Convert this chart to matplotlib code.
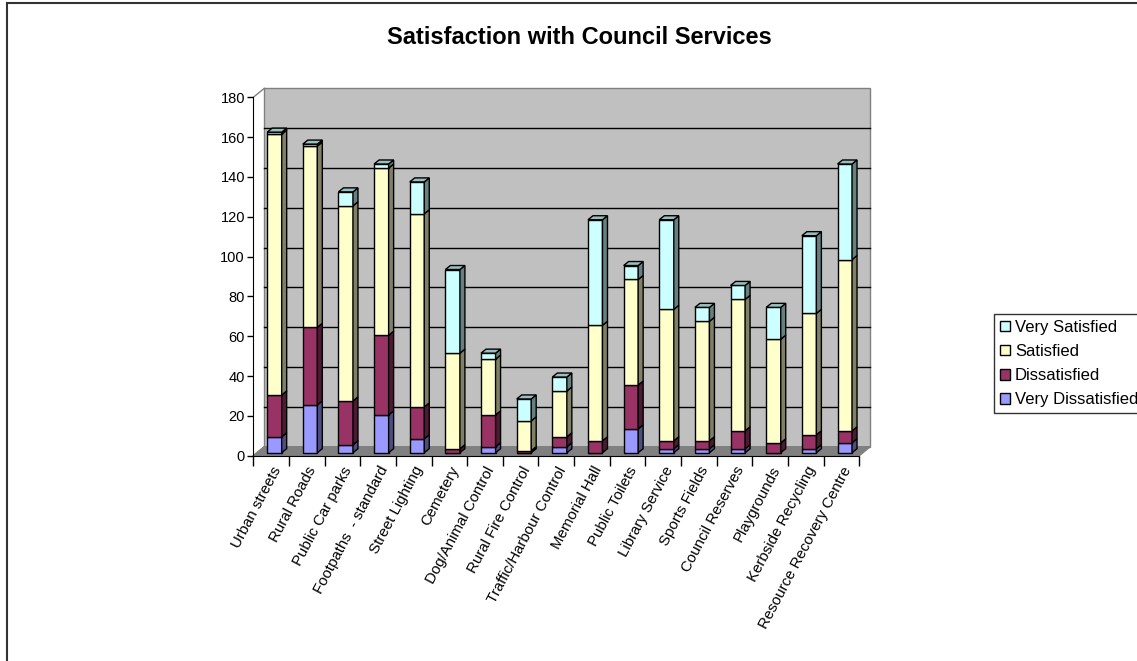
import matplotlib
matplotlib.use("Agg")
import matplotlib.pyplot as plt
from matplotlib.patches import Polygon, Rectangle, Patch
from matplotlib.lines import Line2D
import numpy as np

categories = ["Urban streets", "Rural Roads", "Public Car parks", "Footpaths  - standard",
              "Street Lighting", "Cemetery", "Dog/Animal Control", "Rural Fire Control",
              "Traffic/Harbour Control", "Memorial Hall", "Public Toilets", "Library Service",
              "Sports Fields", "Council Reserves", "Playgrounds", "Kerbside Recycling",
              "Resource Recovery Centre"]
very_dissatisfied = [8, 24, 4, 19, 7, 0, 3, 0, 3, 0, 12, 2, 2, 2, 0, 2, 5]
dissatisfied = [21, 39, 22, 40, 16, 2, 16, 1, 5, 6, 22, 4, 4, 9, 5, 7, 6]
satisfied = [131, 91, 98, 84, 97, 48, 28, 15, 23, 58, 53, 66, 60, 66, 52, 61, 86]
very_satisfied = [1, 1, 7, 2, 16, 42, 3, 11, 7, 53, 7, 45, 7, 7, 16, 39, 48]
series_names = ["Very Dissatisfied", "Dissatisfied", "Satisfied", "Very Satisfied"]
series_colors = ["#9999FF", "#993366", "#FFFFCC", "#CCFFFF"]
y_ticks = [0, 20, 40, 60, 80, 100, 120, 140, 160, 180]

plt.rcParams['font.family'] = ['Liberation Sans', 'DejaVu Sans']

W, H = 1137, 661
fig = plt.figure(figsize=(W / 100, H / 100), dpi=100)
fig.patch.set_facecolor("white")

ax_l, ax_r, ax_b, ax_t = 253.3, 859.3, 455.7, 97.3
ax = fig.add_axes([ax_l / W, (H - ax_b) / H, (ax_r - ax_l) / W, (ax_b - ax_t) / H])
n = len(categories)
ax.set_xlim(0, n)
ax.set_ylim(0, 180)
ax.patch.set_visible(False)

# pixel -> data conversion via axes scale
pxx = n / (ax_r - ax_l)
pxy = 180 / (ax_b - ax_t)

def shade(c, f):
    c = np.array(matplotlib.colors.to_rgb(c))
    return tuple(np.clip(c * f, 0, 1))

# walls
wx, wy = 11 * pxx, 9 * pxy
wall = Rectangle((wx, wy), n, 180, facecolor="#C0C0C0", edgecolor="#808080", lw=1.0,
                 clip_on=False, zorder=0)
ax.add_patch(wall)
floor = Polygon([(0, 0), (n, 0), (n + wx, wy), (wx, wy)], closed=True,
                facecolor="#808080", edgecolor="#808080", lw=1.0, clip_on=False, zorder=0.5)
ax.add_patch(floor)
ax.plot([0, wx], [180, 180 + wy], color="#808080", lw=1.0, clip_on=False, zorder=0.6)
ax.plot([0, wx], [0, wy], color="#808080", lw=1.0, clip_on=False, zorder=0.6)
for v in y_ticks[1:-1]:
    ax.plot([wx, n + wx], [v + wy, v + wy], color="black", lw=1.0, clip_on=False, zorder=0.7)

# bars
ox, oy = 3.3 * pxx, 3 * pxy
dx, dy = 5 * pxx, 4 * pxy
bw = 14.5 * pxx
x = np.arange(n) + 0.5 + ox
data = [very_dissatisfied, dissatisfied, satisfied, very_satisfied]
bottoms = np.zeros(n)
for k, (vals, col) in enumerate(zip(data, series_colors)):
    vals = np.array(vals, dtype=float)
    ax.bar(x, vals, width=bw, bottom=bottoms + oy, color=col, edgecolor="black",
           lw=1.0, zorder=2, clip_on=False)
    for i in range(n):
        if vals[i] <= 0:
            continue
        xr = x[i] + bw / 2
        y0 = bottoms[i] + oy
        y1 = y0 + vals[i]
        ax.add_patch(Polygon([(xr, y0), (xr + dx, y0 + dy), (xr + dx, y1 + dy), (xr, y1)],
                             closed=True, facecolor=shade(col, 0.5), edgecolor="black",
                             lw=1.0, zorder=2, clip_on=False))
    bottoms = bottoms + vals

for i in range(n):
    top_k = max(k for k in range(4) if data[k][i] > 0)
    col = series_colors[top_k]
    xl = x[i] - bw / 2
    xr = x[i] + bw / 2
    yt = bottoms[i] + oy
    ax.add_patch(Polygon([(xl, yt), (xr, yt), (xr + dx, yt + dy), (xl + dx, yt + dy)],
                         closed=True, facecolor=shade(col, 0.75), edgecolor="black",
                         lw=1.0, zorder=3, clip_on=False))

# axes styling
for s in ["top", "right"]:
    ax.spines[s].set_visible(False)
ax.spines["left"].set_color("black")
ax.spines["bottom"].set_color("black")
ax.spines["left"].set_zorder(1)
ax.set_yticks(y_ticks)
ax.set_yticklabels([str(v) for v in y_ticks], fontsize=10.5)
ax.tick_params(axis="y", direction="out", length=4, width=1, pad=2)
ax.set_xticks(np.arange(n + 1))
ax.set_xticklabels([])
ax.set_xticks(np.arange(n) + 0.5, minor=True)
ax.set_xticklabels(categories, minor=True, rotation=62, ha="right", va="top",
                   rotation_mode="anchor", fontsize=10.8)
ax.tick_params(axis="x", which="major", direction="out", length=7, width=1)
ax.tick_params(axis="x", which="minor", length=0, pad=6)

fig.text(579 / W, 1 - 37 / H, "Satisfaction with Council Services", fontsize=17,
         fontweight="bold", ha="center", va="center")

handles = [Patch(facecolor=series_colors[k], edgecolor="black", lw=1.0) for k in [3, 2, 1, 0]]
labels = [series_names[k] for k in [3, 2, 1, 0]]
leg = fig.legend(handles, labels, loc="upper left", bbox_to_anchor=(994 / W, 1 - 314 / H),
                 fontsize=12, frameon=True, fancybox=False, edgecolor="black",
                 handlelength=0.6, handleheight=0.6, handletextpad=0.3,
                 labelspacing=0.55, borderpad=0.35, borderaxespad=0)
leg.get_frame().set_linewidth(1.0)

# chart area border
fig.add_artist(Line2D([7 / W, 7 / W], [0, 1 - 3 / H], color="#333333", lw=1.5))
fig.add_artist(Line2D([7 / W, 1], [1 - 3 / H, 1 - 3 / H], color="#333333", lw=1.5))

fig.savefig("out.png", dpi=100)
